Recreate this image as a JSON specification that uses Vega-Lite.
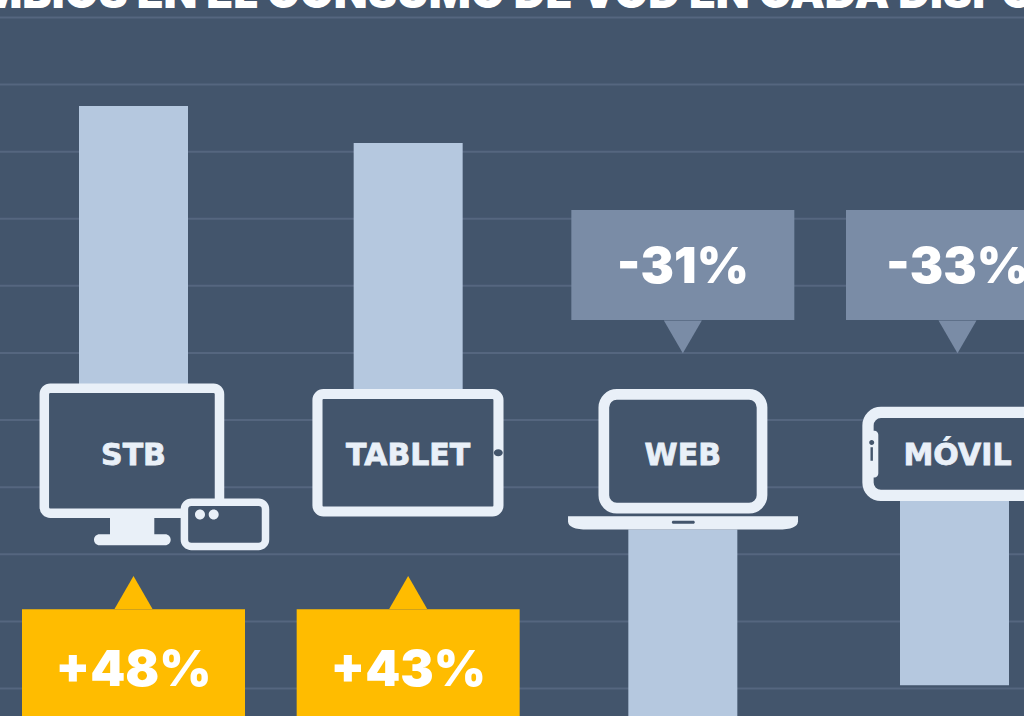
{
"$schema":"https://vega.github.io/schema/vega-lite/v6.json",
"width":1024,"height":716,
"autosize":{"type":"none"},
"padding":0,
"background":"#43556c",
"config":{"view":{"stroke":null}},
"resolve":{"scale":{"shape":"independent"}},
"data":{"values":[
{"device":"STB","etiqueta":"+48%","signo":"sube","bar":56.8,"base":0,"card_a":-18.2,"card_b":-40,"tip":-15.7,"card_text":-27.4},
{"device":"TABLET","etiqueta":"+43%","signo":"sube","bar":51.3,"base":0,"card_a":-18.2,"card_b":-40,"tip":-15.7,"card_text":-27.4},
{"device":"WEB","etiqueta":"-31%","signo":"baja","bar":-40,"base":-6.3,"card_a":41.3,"card_b":24.9,"tip":22.4,"card_text":32.6},
{"device":"MÓVIL","etiqueta":"-33%","signo":"baja","bar":-29.5,"base":-1.9,"card_a":41.3,"card_b":24.9,"tip":22.4,"card_text":32.6}
]},
"encoding":{"x":{"field":"device","type":"nominal","axis":null,"scale":{"type":"point","domain":["STB","TABLET","WEB","MÓVIL"],"range":[133.5,957.5],"padding":0}}},
"layer":[
{"data":{"values":[{"g":-30},{"g":-20},{"g":-10},{"g":0},{"g":10},{"g":20},{"g":30},{"g":40},{"g":50},{"g":60},{"g":70}]},
 "mark":{"type":"rule","color":"#55667f","strokeWidth":2},
 "encoding":{"x":null,"y":{"field":"g","type":"quantitative","axis":null,"scale":{"domain":[-34.1,72.6],"nice":false,"zero":false}}}},
{"transform":[{"filter":"datum.device!='MÓVIL'"}],
 "mark":{"type":"bar","width":109,"orient":"vertical","color":"#b5c8df"},
 "encoding":{"y":{"field":"bar","type":"quantitative","axis":null,"scale":{"domain":[-34.1,72.6],"nice":false,"zero":false}},"y2":{"field":"base"}}},
{"transform":[{"filter":"datum.device=='MÓVIL'"}],
 "mark":{"type":"bar","width":109,"orient":"vertical","color":"#b5c8df","xOffset":-3},
 "encoding":{"y":{"field":"bar","type":"quantitative","axis":null,"scale":{"domain":[-34.1,72.6],"nice":false,"zero":false}},"y2":{"field":"base"}}},
{"mark":{"type":"point","filled":true,"opacity":1,"fill":"#43556c","stroke":"#e9f0f8","size":4},
 "encoding":{"y":{"datum":4.77,"type":"quantitative","axis":null,"scale":{"domain":[-34.1,72.6],"nice":false,"zero":false}},
  "shape":{"field":"device","type":"nominal","legend":null,"scale":{"domain":["STB","TABLET","WEB","MÓVIL"],"range":[
   "M-83.2 -67 H80 A6 6 0 0 1 86 -61 V52 A6 6 0 0 1 80 58 H-83.2 A6 6 0 0 1 -89.2 52 V-61 A6 6 0 0 1 -83.2 -67 Z",
   "M-84.7 -61.2 H84.3 A6 6 0 0 1 90.3 -55.2 V50.3 A6 6 0 0 1 84.3 56.3 H-84.7 A6 6 0 0 1 -90.7 50.3 V-55.2 A6 6 0 0 1 -84.7 -61.2 Z",
   "M-66 -60.7 H66.2 A13 13 0 0 1 79.2 -47.7 V40 A13 13 0 0 1 66.2 53 H-66 A13 13 0 0 1 -79 40 V-47.7 A13 13 0 0 1 -66 -60.7 Z",
   "M-76.5 -42.7 H76.5 A13 13 0 0 1 89.5 -29.7 V27.3 A13 13 0 0 1 76.5 40.3 H-76.5 A13 13 0 0 1 -89.5 27.3 V-29.7 A13 13 0 0 1 -76.5 -42.7 Z"]}},
  "strokeWidth":{"field":"device","type":"ordinal","legend":null,"scale":{"domain":["STB","TABLET","WEB","MÓVIL"],"range":[9.5,11.3,10.5,10]}}}},
{"transform":[{"filter":"datum.device!='TABLET'"}],
 "mark":{"type":"point","filled":true,"opacity":1,"fill":"#e9f0f8","strokeWidth":0,"size":4},
 "encoding":{"y":{"datum":4.77,"type":"quantitative","axis":null,"scale":{"domain":[-34.1,72.6],"nice":false,"zero":false}},
  "shape":{"field":"device","type":"nominal","legend":null,"scale":{"domain":["STB","WEB","MÓVIL"],"range":[
   "M-23.5 60 H20.8 V79 H31.7 A5.5 5.5 0 0 1 31.7 90 H-34 A5.5 5.5 0 0 1 -34 79 H-23.5 Z",
   "M-114.8 61 H115.2 V66 Q115 74.3 95 74.3 H-95 Q-114.8 74.3 -114.8 66 Z",
   "M-89.5 -24.3 H-83 A4 4 0 0 1 -79.2 -20.3 V18.3 A4 4 0 0 1 -83 22.3 H-89.5 Z"]}}}},
{"transform":[{"filter":"datum.device!='STB'"}],
 "mark":{"type":"point","filled":true,"opacity":1,"fill":"#43556c","strokeWidth":0,"size":4},
 "encoding":{"y":{"datum":4.77,"type":"quantitative","axis":null,"scale":{"domain":[-34.1,72.6],"nice":false,"zero":false}},
  "shape":{"field":"device","type":"nominal","legend":null,"scale":{"domain":["TABLET","WEB","MÓVIL"],"range":[
   "M85.6 -2.3 A4.5 3.5 0 1 1 94.6 -2.3 A4.5 3.5 0 1 1 85.6 -2.3 Z",
   "M-9.5 65.7 H10.5 A1.5 1.5 0 0 1 10.5 68.7 H-9.5 A1.5 1.5 0 0 1 -9.5 65.7 Z",
   "M-88.3 -12.7 A2.5 2.5 0 1 1 -83.3 -12.7 A2.5 2.5 0 1 1 -88.3 -12.7 Z M-87 -8 H-84.6 V5.7 H-87 Z"]}}}},
{"transform":[{"filter":"datum.device=='STB'"}],
 "mark":{"type":"point","filled":true,"opacity":1,"fill":"#43556c","stroke":"#e9f0f8","strokeWidth":7.5,"size":4,"shape":"M57.9 47 H125 A7 7 0 0 1 132 54 V84.3 A7 7 0 0 1 125 91.3 H57.9 A7 7 0 0 1 50.9 84.3 V54 A7 7 0 0 1 57.9 47 Z"},
 "encoding":{"y":{"datum":4.77,"type":"quantitative","axis":null,"scale":{"domain":[-34.1,72.6],"nice":false,"zero":false}}}},
{"transform":[{"filter":"datum.device=='STB'"}],
 "mark":{"type":"point","filled":true,"opacity":1,"fill":"#e9f0f8","strokeWidth":0,"size":4,"shape":"M61.5 59.3 A5 5 0 1 1 71.5 59.3 A5 5 0 1 1 61.5 59.3 Z M75.2 59.3 A5 5 0 1 1 85.2 59.3 A5 5 0 1 1 75.2 59.3 Z"},
 "encoding":{"y":{"datum":4.77,"type":"quantitative","axis":null,"scale":{"domain":[-34.1,72.6],"nice":false,"zero":false}}}},
{"mark":{"type":"bar","width":223,"orient":"vertical"},
 "encoding":{"y":{"field":"card_a","type":"quantitative","axis":null,"scale":{"domain":[-34.1,72.6],"nice":false,"zero":false}},"y2":{"field":"card_b"},
  "color":{"field":"signo","type":"nominal","legend":null,"scale":{"domain":["sube","baja"],"range":["#ffbc00","#7a8ca6"]}}}},
{"mark":{"type":"point","filled":true,"opacity":1,"size":1444,"strokeWidth":0},
 "encoding":{"y":{"field":"tip","type":"quantitative","axis":null,"scale":{"domain":[-34.1,72.6],"nice":false,"zero":false}},
  "color":{"field":"signo","type":"nominal","legend":null,"scale":{"domain":["sube","baja"],"range":["#ffbc00","#7a8ca6"]}},
  "shape":{"field":"signo","type":"nominal","legend":null,"scale":{"domain":["sube","baja"],"range":["triangle-up","triangle-down"]}}}},
{"mark":{"type":"text","font":"Inter","fontWeight":900,"fontSize":50,"color":"#ffffff","align":"center","baseline":"middle"},
 "encoding":{"y":{"field":"card_text","type":"quantitative","axis":null,"scale":{"domain":[-34.1,72.6],"nice":false,"zero":false}},"text":{"field":"etiqueta"}}},
{"mark":{"type":"text","font":"DejaVu Sans","fontWeight":"bold","fontSize":30,"color":"#e9f0f8","stroke":"#e9f0f8","strokeWidth":0.8,"align":"center","baseline":"middle"},
 "encoding":{"y":{"datum":4.65,"type":"quantitative","axis":null,"scale":{"domain":[-34.1,72.6],"nice":false,"zero":false}},"text":{"field":"device"}}},
{"data":{"values":[{"titulo":"CAMBIOS EN EL CONSUMO DE VOD EN CADA DISPOSITIVO"}]},
 "mark":{"type":"text","font":"Inter","fontWeight":900,"fontSize":44,"color":"#ffffff","align":"left","baseline":"alphabetic","dx":-769},
 "encoding":{"x":{"datum":"WEB","axis":null},"y":{"datum":71.4,"type":"quantitative","axis":null,"scale":{"domain":[-34.1,72.6],"nice":false,"zero":false}},"text":{"field":"titulo"}}}
]}
